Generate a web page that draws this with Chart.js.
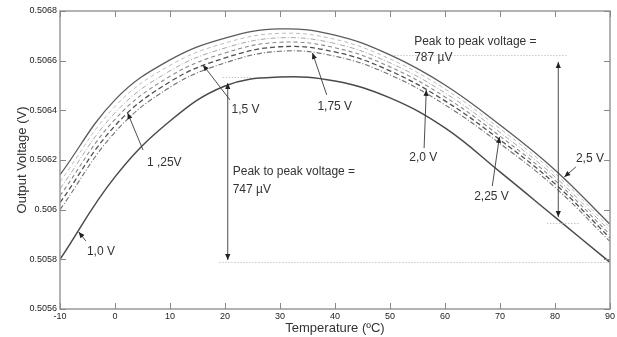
<!DOCTYPE html>
<html>
<head>
<meta charset="utf-8">
<script src="https://cdn.jsdelivr.net/npm/chart.js@4/dist/chart.umd.min.js"></script>
<style>
  html, body { margin: 0; padding: 0; background: #fff; }
  canvas { display: block; }
</style>
</head>
<body>
<canvas id="tempChart" width="617" height="337"></canvas>
<script>
// temperature sweep (ºC) and output voltage (V) for each supply voltage
const temps = [-10, 0, 10, 20, 30, 40, 50, 60, 70, 80, 90];
const xTicks = [-10, 0, 10, 20, 30, 40, 50, 60, 70, 80, 90];
const yTicks = [0.5056, 0.5058, 0.506, 0.5062, 0.5064, 0.5066, 0.5068];

const vdd100 = [0.5058, 0.506132, 0.506357, 0.506498, 0.506534, 0.506518, 0.50645, 0.506329, 0.506152, 0.50597, 0.505788];
const vdd125 = [0.506, 0.506312, 0.506493, 0.506591, 0.506638, 0.506618, 0.506543, 0.506422, 0.506266, 0.50609, 0.505872];
const vdd150 = [0.506028, 0.506338, 0.506515, 0.506611, 0.506656, 0.506635, 0.506559, 0.506438, 0.506281, 0.506104, 0.505886];
const vdd175 = [0.506056, 0.506364, 0.506537, 0.506631, 0.506674, 0.506652, 0.506575, 0.506454, 0.506296, 0.506118, 0.5059];
const vdd200 = [0.506084, 0.50639, 0.506559, 0.506651, 0.506692, 0.506669, 0.506591, 0.50647, 0.506311, 0.506132, 0.505914];
const vdd225 = [0.506112, 0.506416, 0.506581, 0.506671, 0.50671, 0.506686, 0.506607, 0.506486, 0.506326, 0.506146, 0.505928];
const vdd250 = [0.50614, 0.506442, 0.506603, 0.506691, 0.506728, 0.506703, 0.506623, 0.506502, 0.506341, 0.50616, 0.505941];

const seriesNames = ["1,0 V", "1,25 V", "1,5 V", "1,75 V", "2,0 V", "2,25 V", "2,5 V"];
const seriesValues = [vdd100, vdd125, vdd150, vdd175, vdd200, vdd225, vdd250];

const seriesStyle = [
  { color: "#4a4a4a", width: 1.5, dash: [] },
  { color: "#707070", width: 1.1, dash: [5, 2, 1, 2] },
  { color: "#505050", width: 1.3, dash: [5, 3] },
  { color: "#8a8a8a", width: 1.1, dash: [4, 3] },
  { color: "#a8a8a8", width: 1.0, dash: [5, 2, 1, 2] },
  { color: "#bdbdbd", width: 1.0, dash: [4, 3] },
  { color: "#5c5c5c", width: 1.3, dash: [] },
];

// callouts, in data units (ºC, V)
const notes = [
  { text: "Peak to peak voltage =", x: 54.4, y: 0.506675 },
  { text: "787 \u00b5V", x: 54.4, y: 0.506611 },
  { text: "Peak to peak voltage =", x: 21.4, y: 0.506152 },
  { text: "747 \u00b5V", x: 21.4, y: 0.506079 },
  { text: "1,0 V", x: -5.1, y: 0.50583 },
  { text: "1 ,25V", x: 5.8, y: 0.506188 },
  { text: "1,5 V", x: 21.2, y: 0.506401 },
  { text: "1,75 V", x: 36.8, y: 0.506413 },
  { text: "2,0 V", x: 53.5, y: 0.506208 },
  { text: "2,25 V", x: 65.3, y: 0.506051 },
  { text: "2,5 V", x: 83.8, y: 0.506204 },
];

const arrows = [
  { from: [-5.3, 0.505874], to: [-6.6, 0.50591] },
  { from: [5.1, 0.50624], to: [2.3, 0.506389] },
  { from: [20.9, 0.506442], to: [16.0, 0.506583] },
  { from: [38.5, 0.506462], to: [35.9, 0.506631] },
  { from: [56.2, 0.506248], to: [56.6, 0.506482] },
  { from: [68.6, 0.506095], to: [69.9, 0.506293] },
  { from: [83.8, 0.506172], to: [81.7, 0.506132] },
  { from: [80.6, 0.50597], to: [80.6, 0.506595], both: true },
  { from: [20.5, 0.505797], to: [20.5, 0.50651], both: true },
];

const guides = [
  { x1: 50.8, x2: 82.2, y: 0.506623 },
  { x1: 78.6, x2: 84.4, y: 0.505946 },
  { x1: 19.6, x2: 25.0, y: 0.506535 },
  { x1: 19.0, x2: 90, y: 0.505788 },
];

const FONT = "'Liberation Sans', Arial, sans-serif";

function arrowHead(ctx, x0, y0, x1, y1) {
  const a = Math.atan2(y1 - y0, x1 - x0);
  const len = 6, half = 2.6;
  ctx.beginPath();
  ctx.moveTo(x1, y1);
  ctx.lineTo(x1 - len * Math.cos(a) + half * Math.sin(a), y1 - len * Math.sin(a) - half * Math.cos(a));
  ctx.lineTo(x1 - len * Math.cos(a) - half * Math.sin(a), y1 - len * Math.sin(a) + half * Math.cos(a));
  ctx.closePath();
  ctx.fill();
}

const framePlugin = {
  id: "frameAndNotes",
  afterDatasetsDraw(chart) {
    const { ctx, chartArea: ca, scales: { x, y } } = chart;
    ctx.save();

    // dotted guide lines
    ctx.strokeStyle = "#b0b0b0";
    ctx.lineWidth = 1;
    ctx.setLineDash([1, 2]);
    guides.forEach(g => {
      const py = Math.round(y.getPixelForValue(g.y)) + 0.5;
      ctx.beginPath();
      ctx.moveTo(x.getPixelForValue(g.x1), py);
      ctx.lineTo(x.getPixelForValue(g.x2), py);
      ctx.stroke();
    });
    ctx.setLineDash([]);

    // arrows
    ctx.strokeStyle = "#3a3a3a";
    ctx.fillStyle = "#222";
    ctx.lineWidth = 0.9;
    arrows.forEach(a => {
      const x0 = x.getPixelForValue(a.from[0]), y0 = y.getPixelForValue(a.from[1]);
      const x1 = x.getPixelForValue(a.to[0]), y1 = y.getPixelForValue(a.to[1]);
      ctx.beginPath();
      ctx.moveTo(x0, y0);
      ctx.lineTo(x1, y1);
      ctx.stroke();
      arrowHead(ctx, x0, y0, x1, y1);
      if (a.both) arrowHead(ctx, x1, y1, x0, y0);
    });

    // labels
    ctx.fillStyle = "#333";
    ctx.font = "12px " + FONT;
    ctx.textBaseline = "middle";
    ctx.textAlign = "left";
    notes.forEach(n => {
      ctx.fillText(n.text, x.getPixelForValue(n.x), y.getPixelForValue(n.y));
    });

    // box with inward ticks
    ctx.strokeStyle = "#999";
    ctx.lineWidth = 1.5;
    ctx.strokeRect(ca.left, ca.top, ca.right - ca.left, ca.bottom - ca.top);
    ctx.lineWidth = 1;
    ctx.strokeStyle = "#888";
    const tl = 6;
    x.ticks.forEach(t => {
      const px = Math.round(x.getPixelForValue(t.value)) + 0.5;
      ctx.beginPath();
      ctx.moveTo(px, ca.bottom); ctx.lineTo(px, ca.bottom - tl);
      ctx.moveTo(px, ca.top); ctx.lineTo(px, ca.top + tl);
      ctx.stroke();
    });
    y.ticks.forEach(t => {
      const py = Math.round(y.getPixelForValue(t.value)) + 0.5;
      ctx.beginPath();
      ctx.moveTo(ca.left, py); ctx.lineTo(ca.left + tl, py);
      ctx.moveTo(ca.right, py); ctx.lineTo(ca.right - tl, py);
      ctx.stroke();
    });
    ctx.restore();
  }
};

const datasets = seriesValues.map((vals, i) => ({
  label: seriesNames[i],
  data: temps.map((t, j) => ({ x: t, y: vals[j] })),
  borderColor: seriesStyle[i].color,
  borderWidth: seriesStyle[i].width,
  borderDash: seriesStyle[i].dash,
  pointRadius: 0,
  tension: 0.4,
  fill: false,
}));

new Chart(document.getElementById("tempChart"), {
  type: "line",
  data: { datasets },
  plugins: [framePlugin],
  options: {
    responsive: false,
    animation: false,
    devicePixelRatio: 1,
    layout: { padding: { top: 11, right: 6, bottom: 0, left: 0 } },
    plugins: { legend: { display: false }, tooltip: { enabled: false } },
    scales: {
      x: {
        type: "linear",
        min: -10,
        max: 90,
        afterBuildTicks: s => { s.ticks = xTicks.map(v => ({ value: v })); },
        afterFit: s => { s.height = 28; },
        grid: { display: false, drawTicks: false },
        border: { display: false },
        ticks: {
          padding: 2,
          color: "#222",
          font: { family: FONT, size: 9 },
          maxRotation: 0,
          callback: v => String(v),
        },
        title: {
          display: true,
          text: "Temperature (\u00baC)",
          color: "#333",
          font: { family: FONT, size: 13 },
          padding: { top: 0, bottom: 1 },
        },
      },
      y: {
        min: 0.5056,
        max: 0.5068,
        afterBuildTicks: s => { s.ticks = yTicks.map(v => ({ value: v })); },
        afterFit: s => { s.width = 60; },
        grid: { display: false, drawTicks: false },
        border: { display: false },
        ticks: {
          padding: 3,
          color: "#222",
          font: { family: FONT, size: 9 },
          callback: v => String(Number(v.toFixed(4))),
        },
        title: {
          display: true,
          text: "Output Voltage (V)",
          color: "#333",
          font: { family: FONT, size: 13 },
          padding: { top: 15, bottom: 0 },
        },
      },
    },
  },
});
</script>
</body>
</html>
